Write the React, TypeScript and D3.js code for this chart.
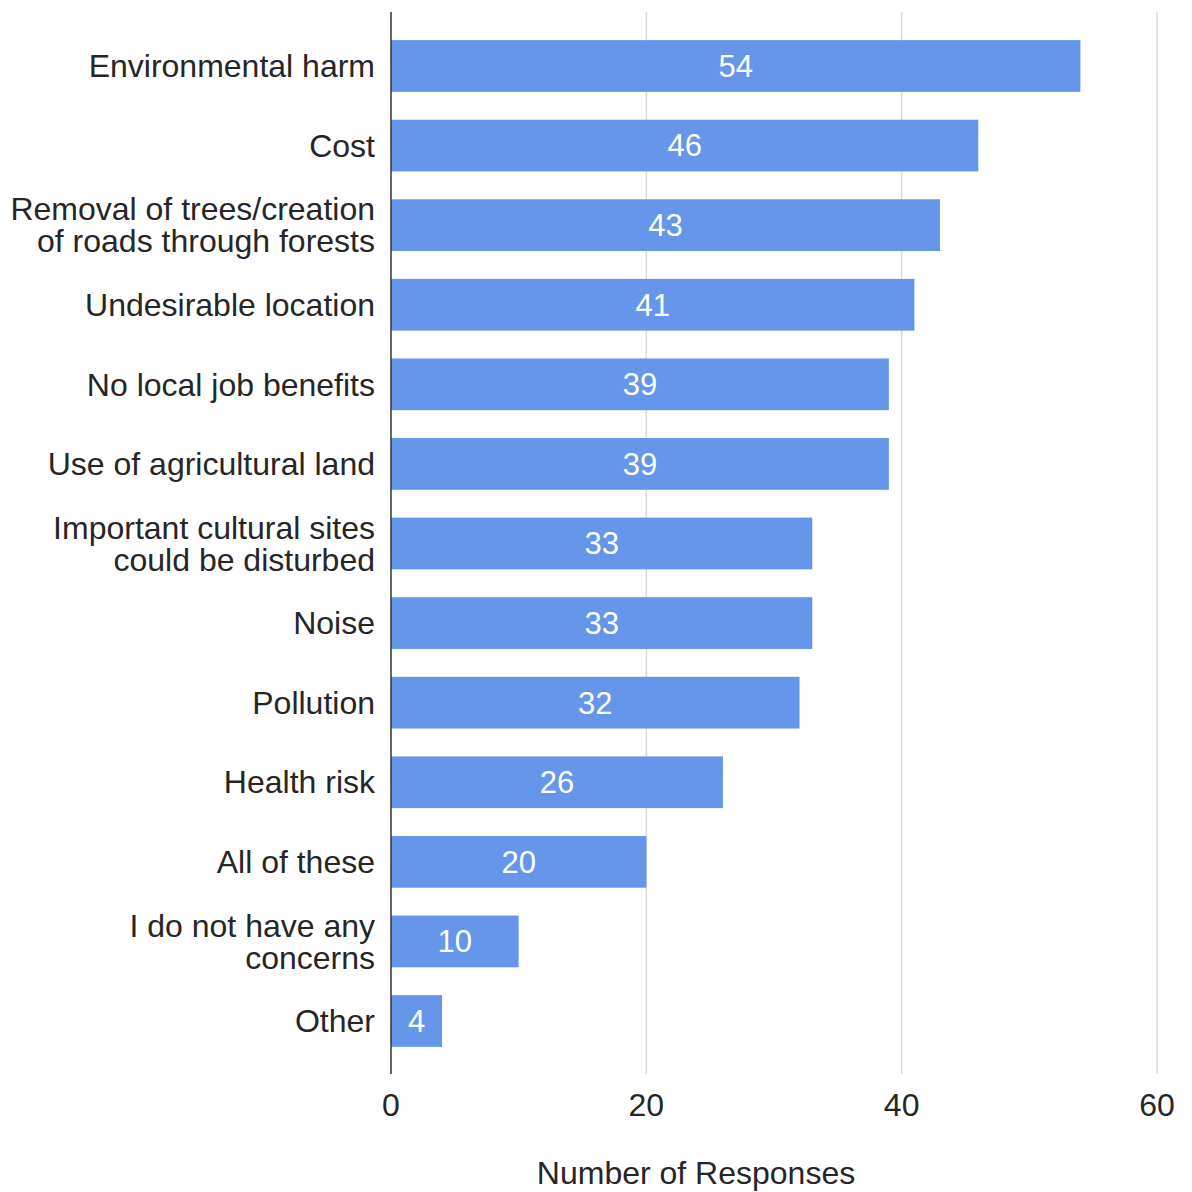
import React from "react";
import * as d3 from "d3";

const categories: string[] = [
  "Environmental harm",
  "Cost",
  "Removal of trees/creation\nof roads through forests",
  "Undesirable location",
  "No local job benefits",
  "Use of agricultural land",
  "Important cultural sites\ncould be disturbed",
  "Noise",
  "Pollution",
  "Health risk",
  "All of these",
  "I do not have any\nconcerns",
  "Other",
];
const responses: number[] = [54, 46, 43, 41, 39, 39, 33, 33, 32, 26, 20, 10, 4];
const xTicks: number[] = [0, 20, 40, 60];
const axisTitle = "Number of Responses";

const W = 1192;
const H = 1192;
const FONT = "'Liberation Sans', Arial, Helvetica, sans-serif";

export default function App() {
  const x = d3.scaleLinear().domain([0, 60]).range([391, 1157]);
  const y = d3
    .scaleBand<string>()
    .domain(categories)
    .range([26.2, 1060.8])
    .paddingInner(0.35)
    .paddingOuter(0.175);
  const bw = y.bandwidth();
  const plotTop = 12;
  const plotBottom = 1074;

  return (
    <svg
      width={W}
      height={H}
      style={{ position: "absolute", left: 0, top: 0, background: "#fff" }}
      fontFamily={FONT}
    >
      <rect x={0} y={0} width={W} height={H} fill="#fff" />
      {xTicks.filter((t) => t !== 0).map((t) => (
        <line key={t} x1={x(t)} x2={x(t)} y1={plotTop} y2={plotBottom} stroke="#dadada" strokeWidth={1.5} />
      ))}
      {categories.map((c, i) => {
        const y0 = y(c)!;
        const v = responses[i];
        return (
          <g key={c}>
            <rect x={x(0)} y={y0} width={x(v) - x(0)} height={bw} fill="#6596ea" />
            <text
              x={(x(0) + x(v)) / 2}
              y={y0 + bw / 2}
              dy="0.35em"
              textAnchor="middle"
              fill="#fff"
              fontSize={31}
            >
              {v}
            </text>
          </g>
        );
      })}
      {categories.map((c) => {
        const lines = c.split("\n");
        const cy = y(c)! + bw / 2;
        const lh = 32;
        return (
          <text key={"l" + c} x={375} textAnchor="end" fill="#262626" fontSize={32}>
            {lines.map((ln, j) => (
              <tspan key={j} x={375} y={cy + (j - (lines.length - 1) / 2) * lh} dy="0.35em">
                {ln}
              </tspan>
            ))}
          </text>
        );
      })}
      <line x1={x(0)} x2={x(0)} y1={plotTop} y2={plotBottom} stroke="#333" strokeWidth={1.5} />
      {xTicks.map((t) => (
        <text key={"t" + t} x={x(t)} y={1105} dy="0.35em" textAnchor="middle" fill="#262626" fontSize={32}>
          {t}
        </text>
      ))}
      <text x={696} y={1173} dy="0.35em" textAnchor="middle" fill="#262626" fontSize={32}>
        {axisTitle}
      </text>
    </svg>
  );
}
